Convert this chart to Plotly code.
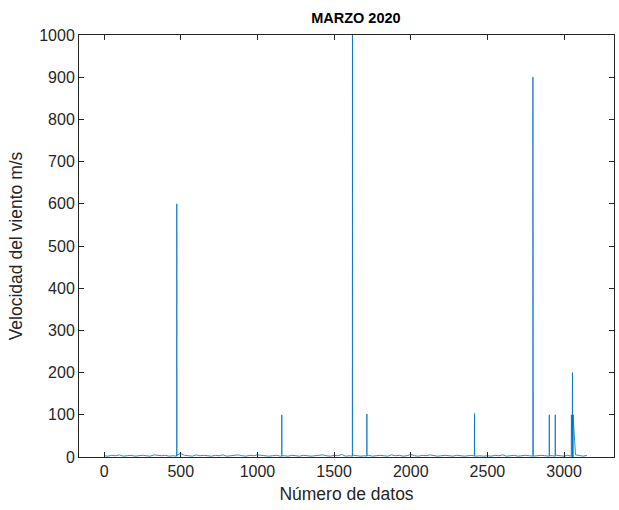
import plotly.graph_objects as go

# Baseline samples (index, m/s)
base_x = list(range(0, 3151, 25))
base_y = [3, 2, 4, 3, 5, 2, 3, 4, 2, 3,
          4, 3, 2, 5, 4, 3, 4, 2, 3, 5,
          8, 4, 3, 2, 5, 3, 4, 3, 2, 4,
          3, 5, 2, 3, 4, 5, 3, 2, 4, 3,
          5, 4, 3, 2, 3, 4, 2, 3, 2, 4,
          3, 2, 4, 3, 2, 3, 4, 5, 3, 2,
          4, 3, 6, 2, 3, 4, 3, 2, 3, 4,
          2, 3, 4, 3, 2, 5, 3, 4, 2, 3,
          6, 3, 2, 4, 3, 5, 4, 2, 3, 4,
          3, 2, 4, 3, 2, 3, 4, 2, 3, 2,
          3, 2, 4, 3, 5, 2, 3, 4, 2, 3,
          4, 3, 2, 3, 4, 3, 2, 3, 4, 3,
          2, 4, 3, 5, 3, 2, 4]

# Spike samples
spike_x = [473, 474, 475,
           1158, 1159, 1160,
           1619, 1620, 1621,
           1713, 1714, 1715,
           2415, 2416, 2417,
           2796, 2797, 2798,
           2903, 2904, 2905,
           2942, 2943, 2944,
           3047, 3048, 3049, 3050, 3051, 3052, 3053, 3054, 3055, 3056, 3057, 3058, 3059]
spike_y = [2, 600, 3,
           2, 100, 3,
           2, 1000, 3,
           2, 102, 3,
           2, 103, 3,
           2, 900, 3,
           2, 100, 3,
           2, 100, 3,
           2, 100, 0, 100, 0, 100, 0, 100, 200, 0, 100, 0, 100, 3]

x_ticks = [0, 500, 1000, 1500, 2000, 2500, 3000]
y_ticks = [0, 100, 200, 300, 400, 500, 600, 700, 800, 900, 1000]

pts = sorted(zip(base_x + spike_x, base_y + spike_y))
xs = [p[0] for p in pts]
ys = [p[1] for p in pts]

FONT = "Liberation Sans, Arial"

fig = go.Figure(go.Scatter(x=xs, y=ys, mode="lines",
                           line=dict(color="#0072BD", width=0.8),
                           hoverinfo="skip"))

axis_common = dict(showline=True, linecolor="#262626", linewidth=1, mirror="ticks",
                   ticks="inside", ticklen=5, tickcolor="#262626",
                   showgrid=False, zeroline=False, automargin=False,
                   tickfont=dict(family=FONT, size=16, color="#262626"))

fig.update_layout(
    width=619, height=510,
    margin=dict(l=79, r=5, t=35, b=53),
    paper_bgcolor="white", plot_bgcolor="white",
    showlegend=False,
    title=dict(text="<b>MARZO 2020</b>", x=0.575, xanchor="center", y=0.965, yanchor="middle",
               font=dict(family=FONT, size=14.5, color="black")),
    xaxis=dict(range=[-164, 3326], tickvals=x_ticks,
               title=dict(text="Número de datos", standoff=8,
                          font=dict(family=FONT, size=17.5, color="#262626")),
               **axis_common),
    yaxis=dict(range=[0, 1000], tickvals=y_ticks,
               title=dict(text="Velocidad del viento m/s", standoff=12,
                          font=dict(family=FONT, size=17.5, color="#262626")),
               **axis_common),
)

fig.write_html("out.html", config={"displayModeBar": False, "staticPlot": True},
               post_script="document.body.style.margin='0';document.body.style.padding='0';")
